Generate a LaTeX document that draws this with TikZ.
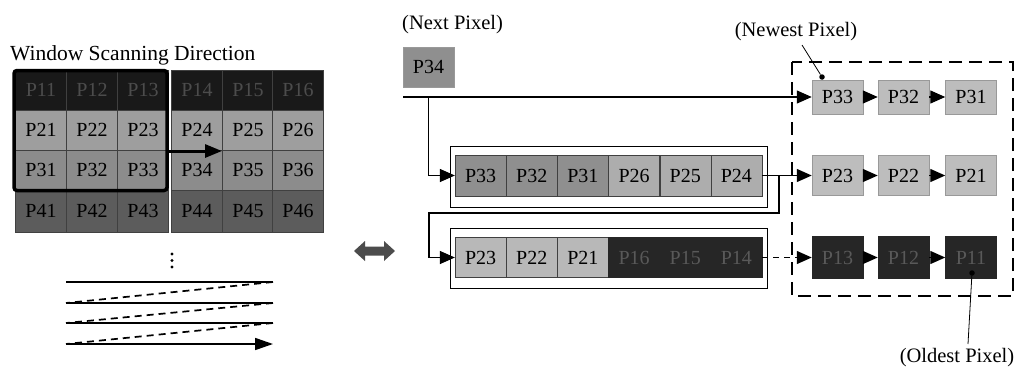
\documentclass[tikz,border=0pt]{standalone}
\usepackage{fontspec}
\setmainfont{Liberation Serif}
\usetikzlibrary{arrows.meta}
\newcommand\cellfont{\fontsize{20}{20}\selectfont}
\definecolor{gA}{gray}{0.10}
\definecolor{gAt}{gray}{0.30}
\definecolor{gB}{gray}{0.62}
\definecolor{gC}{gray}{0.55}
\definecolor{gD}{gray}{0.36}
\definecolor{mA}{gray}{0.56}
\definecolor{mB}{gray}{0.68}
\definecolor{mC}{gray}{0.72}
\definecolor{mD}{gray}{0.15}
\definecolor{mDt}{gray}{0.35}
\definecolor{rA}{gray}{0.74}
\tikzset{
  cell/.style={draw=black!75, line width=0.5pt, minimum width=51pt, minimum height=40pt, inner sep=0pt, font=\cellfont},
  rcell/.style={cell, draw=black!40, fill=rA},
  arr/.style={line width=1.3pt, -{Triangle[length=15pt,width=13pt]}},
  lbl/.style={font=\fontsize{20.5}{20.5}\selectfont, inner sep=0pt},
  scan/.style={line width=1.7pt},
  scandash/.style={line width=1.7pt, dash pattern=on 7pt off 5pt},
  outer/.style={draw=black, line width=0.8pt, minimum width=317pt, inner sep=0pt},
}
\begin{document}
\begin{tikzpicture}[x=1pt,y=-1pt]
\useasboundingbox (0,0) rectangle (1023,370);
\fill[white] (0,0) rectangle (1023,370);

% ---------------- left: image grid ----------------
\node[lbl, font=\fontsize{21.5}{21.5}\selectfont, anchor=west] (title) at (10,55) {Window Scanning Direction};
\foreach \c/\x in {1/41,2/92,3/143,4/197,5/248,6/298}{
  \node[cell, fill=gA, text=gAt] (g1\c) at (\x,90)  {P1\c};
  \node[cell, fill=gB]           (g2\c) at (\x,130) {P2\c};
  \node[cell, fill=gC]           (g3\c) at (\x,170) {P3\c};
  \node[cell, fill=gD, minimum height=42pt] (g4\c) at (\x,211) {P4\c};
}
\node[draw=black, line width=3.5pt, rounded corners=3pt, minimum width=153pt, minimum height=120pt, inner sep=0pt] (window) at (90.5,130.5) {};
\coordinate (wa) at (168,151);
\coordinate (wb) at (222,151);
\draw[line width=3pt, -{Triangle[length=17pt,width=13pt]}] (wa) -- (wb);

% dots
\foreach \y [count=\k] in {254,260.5,267}{
  \node[circle, fill=black, inner sep=0pt, minimum size=3.2pt] (dot\k) at (172,\y) {};
}
% scan lines
\coordinate (s1a) at (66,282); \coordinate (s1b) at (273,282);
\coordinate (s2a) at (66,303); \coordinate (s2b) at (273,303);
\coordinate (s3a) at (66,323); \coordinate (s3b) at (273,323);
\coordinate (s4a) at (66,344); \coordinate (s4b) at (273,344);
\draw[scan] (s1a) -- (s1b);
\draw[scan] (s2a) -- (s2b);
\draw[scan] (s3a) -- (s3b);
\draw[scan, -{Triangle[length=18pt,width=12pt]}] (s4a) -- (s4b);
\draw[scandash] (s1b) -- (s2a);
\draw[scandash] (s2b) -- (s3a);
\draw[scandash] (s3b) -- (s4a);

% double arrow (equivalence)
\fill[gray!60!black] (354,251) -- (365,241) -- (365,246.5) -- (384,246.5) -- (384,241) -- (395,251)
  -- (384,261) -- (384,255.5) -- (365,255.5) -- (365,261) -- cycle;

% ---------------- middle: line buffers ----------------
\node[lbl, anchor=west] (nextlbl) at (402,25) {(Next Pixel)};
\node[cell, draw=black!40, fill=mA] (p34) at (428.5,67) {P34};

\node[outer, minimum height=61pt] (box1) at (608.5,176.5) {};
\node[outer, minimum height=60pt] (box2) at (608.5,258) {};

\foreach \c/\x/\l in {1/480.6/P33,2/531.8/P32,3/582.9/P31}{
  \node[cell, fill=mA, minimum height=41pt] (m1\c) at (\x,175.5) {\l};
}
\foreach \c/\x/\l in {4/634.1/P26,5/685.3/P25,6/736.4/P24}{
  \node[cell, fill=mB, minimum height=41pt] (m1\c) at (\x,175.5) {\l};
}
\foreach \c/\x/\l in {1/480.6/P23,2/531.8/P22,3/582.9/P21}{
  \node[cell, fill=mC] (m2\c) at (\x,257.5) {\l};
}
\foreach \c/\x/\l in {4/634.1/P16,5/685.3/P15,6/736.4/P14}{
  \node[cell, fill=mD, draw=mD, text=mDt] (m2\c) at (\x,257.5) {\l};
}

% ---------------- right: window registers ----------------
\draw[line width=2.6pt, dash pattern=on 13pt off 7pt] (792,62) rectangle (1013,296);

\foreach \c/\x/\l in {1/837.5/P33,2/903.5/P32,3/971/P31}{
  \node[rcell, minimum height=34pt] (r1\c) at (\x,97) {\l};
}
\foreach \c/\x/\l in {1/837.5/P23,2/903.5/P22,3/971/P21}{
  \node[rcell] (r2\c) at (\x,175.5) {\l};
}
\foreach \c/\x/\l in {1/837.5/P13,2/903.5/P12,3/971/P11}{
  \node[cell, fill=mD, draw=mD, text=mDt, minimum height=42pt] (r3\c) at (\x,257.5) {\l};
}
\foreach \r in {1,2,3}{
  \draw[arr] (r\r1.east) -- (r\r2.west);
  \draw[arr] (r\r2.east) -- (r\r3.west);
}

% ---------------- connectors ----------------
\coordinate (tl) at (403,97);
\coordinate (br1) at (428.5,97);
\draw[arr] (tl) -- (r11.west);
\draw[arr] (br1) |- (m11.west);

\draw[arr] (m16.east) -- (r21.west);
\coordinate (br2) at (779,175.5);
\coordinate (c1) at (779,213);
\coordinate (c2) at (429,213);
\draw[arr] (br2) -- (c1) -- (c2) |- (m21.west);

\draw[arr, dash pattern=on 6pt off 5pt] (m26.east) -- (r31.west);

% labels with pointers
\node[lbl] (newlbl) at (796,32) {(Newest Pixel)};
\node[circle, fill=black, inner sep=0pt, minimum size=5.5pt] (newdot) at (822,77) {};
\coordinate (nl) at (802,45);
\draw[line width=0.8pt] (nl) -- (newdot);

\node[lbl] (oldlbl) at (957,358) {(Oldest Pixel)};
\node[circle, fill=black, inner sep=0pt, minimum size=5.5pt] (olddot) at (972,273) {};
\coordinate (ol) at (968,344);
\draw[line width=0.8pt] (ol) -- (olddot);
\end{tikzpicture}
\end{document}
